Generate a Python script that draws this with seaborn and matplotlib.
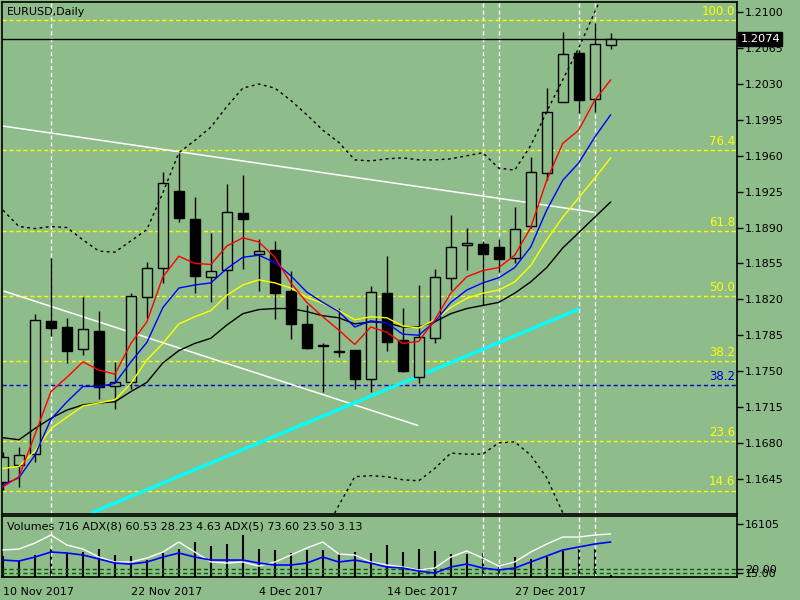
import numpy as np
import pandas as pd
import matplotlib
matplotlib.use("Agg")
import matplotlib.pyplot as plt
import matplotlib.transforms as mtransforms
import seaborn as sns

BG = "#8fbc8b"

# ---------------- data ----------------
x_tick_bars = [0, 8, 16, 24, 32]
x_tick_labels = ["10 Nov 2017", "22 Nov 2017", "4 Dec 2017", "14 Dec 2017", "27 Dec 2017"]

opens = [1.1642, 1.1658, 1.1669, 1.1799, 1.1793, 1.1772, 1.1789, 1.1735, 1.1739, 1.1822,
         1.1851, 1.1926, 1.1898, 1.1842, 1.1849, 1.1904, 1.1864, 1.1868, 1.1828, 1.1796,
         1.1775, 1.1769, 1.1771, 1.1742, 1.1826, 1.1780, 1.1744, 1.1782, 1.1841, 1.1873,
         1.1874, 1.1871, 1.1860, 1.1892, 1.1943, 1.2012, 1.2060, 1.2015, 1.2068]
highs = [1.1671, 1.1676, 1.1806, 1.1860, 1.1802, 1.1822, 1.1809, 1.1759, 1.1826, 1.1856,
         1.1944, 1.1963, 1.1920, 1.1885, 1.1932, 1.1941, 1.1879, 1.1877, 1.1848, 1.1814,
         1.1777, 1.1812, 1.1771, 1.1833, 1.1862, 1.1812, 1.1834, 1.1850, 1.1902, 1.1890,
         1.1877, 1.1879, 1.1910, 1.1959, 1.2026, 1.2081, 1.2063, 1.2090, 1.2080]
lows = [1.1634, 1.1637, 1.1661, 1.1784, 1.1758, 1.1766, 1.1723, 1.1713, 1.1733, 1.1802,
        1.1836, 1.1895, 1.1826, 1.1817, 1.1811, 1.1850, 1.1828, 1.1801, 1.1781, 1.1772,
        1.1730, 1.1764, 1.1733, 1.1730, 1.1770, 1.1749, 1.1738, 1.1777, 1.1829, 1.1849,
        1.1814, 1.1847, 1.1855, 1.1890, 1.1936, 1.2012, 1.2002, 1.2003, 1.2064]
closes = [1.1666, 1.1668, 1.1800, 1.1792, 1.1770, 1.1791, 1.1734, 1.1739, 1.1823, 1.1851,
          1.1933, 1.1899, 1.1843, 1.1848, 1.1905, 1.1898, 1.1867, 1.1826, 1.1796, 1.1773,
          1.1774, 1.1770, 1.1742, 1.1827, 1.1778, 1.1750, 1.1783, 1.1842, 1.1871, 1.1875,
          1.1864, 1.1859, 1.1889, 1.1944, 1.2003, 1.2059, 1.2014, 1.2069, 1.2074]

ma_red = [1.1637, 1.1647, 1.1688, 1.1730, 1.1744, 1.1759, 1.1751, 1.1747, 1.1777, 1.1798,
          1.1842, 1.1862, 1.1855, 1.1854, 1.1872, 1.1880, 1.1876, 1.1861, 1.1836, 1.1817,
          1.1803, 1.1790, 1.1776, 1.1793, 1.1788, 1.1777, 1.1779, 1.1800, 1.1826, 1.1842,
          1.1848, 1.1851, 1.1863, 1.1890, 1.1936, 1.1972, 1.1985, 1.2014, 1.2034]
ma_blue = [1.1639, 1.1646, 1.1668, 1.1703, 1.1720, 1.1735, 1.1735, 1.1738, 1.1759, 1.1778,
           1.1812, 1.1831, 1.1834, 1.1836, 1.1850, 1.1861, 1.1863, 1.1856, 1.1843, 1.1827,
           1.1817, 1.1808, 1.1793, 1.1799, 1.1797, 1.1786, 1.1785, 1.1798, 1.1817, 1.1829,
           1.1836, 1.1841, 1.1851, 1.1871, 1.1907, 1.1936, 1.1953, 1.1978, 1.2000]
ma_yellow = [1.1655, 1.1657, 1.1672, 1.1694, 1.1705, 1.1716, 1.1719, 1.1722, 1.1738, 1.1761,
             1.1777, 1.1796, 1.1803, 1.1809, 1.1824, 1.1834, 1.1839, 1.1836, 1.1831, 1.1822,
             1.1816, 1.1809, 1.1800, 1.1803, 1.1802, 1.1794, 1.1792, 1.1800, 1.1812, 1.1821,
             1.1826, 1.1829, 1.1837, 1.1853, 1.1878, 1.1900, 1.1919, 1.1938, 1.1958]
ma_black = [1.1685, 1.1683, 1.1694, 1.1704, 1.1712, 1.1717, 1.1719, 1.1720, 1.1730, 1.1739,
            1.1758, 1.1770, 1.1777, 1.1782, 1.1795, 1.1806, 1.1810, 1.1811, 1.1811, 1.1808,
            1.1804, 1.1802, 1.1796, 1.1798, 1.1797, 1.1793, 1.1793, 1.1798, 1.1806, 1.1811,
            1.1814, 1.1817, 1.1826, 1.1837, 1.1851, 1.1870, 1.1885, 1.1900, 1.1915]

band_upper = [1.1907, 1.1891, 1.1889, 1.1891, 1.1890, 1.1878, 1.1867, 1.1866, 1.1877, 1.1888,
              1.1924, 1.1963, 1.1975, 1.1988, 1.2008, 1.2026, 1.2030, 1.2026, 1.2014, 1.2000,
              1.1985, 1.1973, 1.1956, 1.1955, 1.1957, 1.1958, 1.1956, 1.1956, 1.1957, 1.1960,
              1.1963, 1.1948, 1.1946, 1.1970, 1.2003, 1.2034, 1.2065, 1.2100, 1.2136]
band_lower_bars = list(range(20, 37))
band_lower = [1.1590, 1.1619, 1.1647, 1.1648, 1.1647, 1.1644, 1.1643, 1.1655, 1.1670, 1.1669,
              1.1669, 1.1680, 1.1681, 1.1668, 1.1646, 1.1612, 1.1580]

price_ticks = [1.2100, 1.2065, 1.2030, 1.1995, 1.1960, 1.1925, 1.1890, 1.1855,
               1.1820, 1.1785, 1.1750, 1.1715, 1.1680, 1.1645]
current_price = 1.2074

fib_labels = ["100.0", "76.4", "61.8", "50.0", "38.2", "23.6", "14.6"]
fib_prices = [1.2092, 1.19655, 1.18865, 1.18231, 1.17597, 1.16817, 1.16330]
fib2_label = "38.2"
fib2_price = 1.17363

white_line1_bars = [0.0, 36.94]
white_line1_prices = [1.1989, 1.1905]
white_line2_bars = [0.06, 25.94]
white_line2_prices = [1.1828, 1.1697]
cyan_line_bars = [5.5, 36.0]
cyan_line_prices = [1.16115, 1.18104]

vline_bars = [3, 30, 31, 36, 37]

volumes = [6400, 4860, 6690, 8510, 7290, 7600, 8510, 6690, 6380, 5170,
           7290, 8510, 10640, 9420, 10030, 12770, 8510, 8210, 7290, 8210,
           8210, 7290, 7600, 7290, 9730, 7600, 8510, 7900, 6990, 6990,
           7290, 3040, 6080, 5470, 6080, 7900, 8510, 8510, 716]
adx_white = [47.4, 49.0, 58.8, 71.9, 55.6, 49.0, 35.9, 27.8, 27.8, 34.3,
             44.1, 60.5, 44.1, 27.8, 26.1, 27.8, 21.2, 27.8, 39.2, 50.7,
             60.5, 40.8, 39.2, 27.8, 22.9, 19.6, 14.7, 18.0, 35.9, 45.8,
             34.3, 21.2, 27.8, 44.1, 57.2, 68.6, 68.6, 71.9, 73.6]
adx_blue = [31.0, 29.4, 35.9, 44.1, 42.5, 39.2, 32.7, 26.1, 24.5, 27.8,
            35.9, 42.5, 35.9, 31.0, 31.0, 31.0, 26.1, 22.9, 22.9, 26.1,
            35.9, 27.8, 31.0, 26.1, 19.6, 18.0, 13.1, 9.8, 19.6, 24.5,
            18.0, 14.7, 18.0, 27.8, 37.6, 47.4, 52.3, 57.2, 60.5]
adx_levels = [16.3, 9.8]
adx_level_labels = ["20.00", "15.00"]
vol_label_value = 16105

# ---------------- style ----------------
sns.set_style("white", {"axes.facecolor": BG, "figure.facecolor": BG,
                        "axes.edgecolor": "black"})
plt.rcParams["font.family"] = ["DejaVu Sans"]
plt.rcParams["font.size"] = 8

fig = plt.figure(figsize=(8, 6), dpi=100, facecolor=BG)
W, H = 800.0, 600.0
L, R = 2, 737
ax = fig.add_axes([L / W, 1 - 514 / H, (R - L) / W, (514 - 2) / H])
axs = fig.add_axes([L / W, 1 - 577 / H, (R - L) / W, (577 - 516) / H])
for a in (ax, axs):
    a.set_facecolor(BG)
    for s in a.spines.values():
        s.set_color("black")
        s.set_linewidth(1.2)

XMIN, XMAX = -0.06, 45.9
ax.set_xlim(XMIN, XMAX)
ax.set_ylim(1.16106, 1.2110)

df = pd.DataFrame({"bar": np.arange(len(opens)), "open": opens, "high": highs,
                   "low": lows, "close": closes})
up = df["close"] >= df["open"]

# background lines
for b in vline_bars:
    ax.axvline(b, color="white", lw=1, ls=(0, (3, 2)), zorder=1)
    axs.axvline(b, color="white", lw=1, ls=(0, (3, 2)), zorder=1)
for p in fib_prices:
    ax.axhline(p, color="#ffff00", lw=1, ls=(0, (3, 2)), zorder=1.5)
ax.axhline(fib2_price, color="#0000cc", lw=1, ls=(0, (3, 2)), zorder=1.5)
ax.axhline(current_price, color="black", lw=1, zorder=1.5)

trans_lbl = mtransforms.blended_transform_factory(ax.transAxes, ax.transData)
for lab, p in zip(fib_labels, fib_prices):
    ax.text(0.9975, p + 0.00025, lab, transform=trans_lbl, ha="right", va="bottom",
            color="#ffff00", fontsize=8.5, zorder=6)
ax.text(0.9975, fib2_price + 0.00025, fib2_label, transform=trans_lbl, ha="right",
        va="bottom", color="#0000cc", fontsize=8.5, zorder=6)

# trend lines
ax.plot(white_line1_bars, white_line1_prices, color="white", lw=1.1, zorder=2)
ax.plot(white_line2_bars, white_line2_prices, color="white", lw=1.1, zorder=2)
ax.plot(cyan_line_bars, cyan_line_prices, color="#00ffff", lw=2.4, zorder=2,
        solid_capstyle="butt")

# candles
ax.vlines(df["bar"], df["low"], df["high"], color="black", lw=1, zorder=3)
body = df["close"] - df["open"]
ax.bar(df["bar"][up], body[up], bottom=df["open"][up], width=0.62,
       facecolor=BG, edgecolor="black", lw=1, zorder=3.5)
ax.bar(df["bar"][~up], body[~up], bottom=df["open"][~up], width=0.62,
       facecolor="black", edgecolor="black", lw=1, zorder=3.5)

# moving averages
bars = df["bar"]
sns.lineplot(x=bars, y=ma_black, color="black", lw=1, ax=ax, zorder=4)
sns.lineplot(x=bars, y=ma_yellow, color="#ffff00", lw=1, ax=ax, zorder=4)
sns.lineplot(x=bars, y=ma_blue, color="#0000ff", lw=1, ax=ax, zorder=4)
sns.lineplot(x=bars, y=ma_red, color="#ff0000", lw=1, ax=ax, zorder=4)

# bands (dotted)
ax.plot(bars, band_upper, color="black", lw=1, ls=(0, (2, 2.5)), zorder=4)
ax.plot(band_lower_bars, band_lower, color="black", lw=1, ls=(0, (2, 2.5)), zorder=4)

# axis formatting main
ax.set_xlabel("")
ax.set_ylabel("")
ax.set_xticks([])
ax.yaxis.tick_right()
ax.set_yticks(price_ticks)
ax.set_yticklabels([f"{p:.4f}" for p in price_ticks])
ax.tick_params(axis="y", direction="out", length=4, width=1, pad=1.5,
               labelsize=8, colors="black")
ax.text(5 / (R - L), 1 - 10 / 512, "EURUSD,Daily", transform=ax.transAxes,
        ha="left", va="center", fontsize=8, color="black", zorder=6)
ax.text(1.0045, current_price, f"{current_price:.4f}", transform=trans_lbl,
        ha="left", va="center", color="white", fontsize=8.2, zorder=10,
        clip_on=False,
        bbox=dict(boxstyle="square,pad=0.18", fc="black", ec="black"))

# ---------------- sub panel ----------------
axs.set_xlim(XMIN, XMAX)
axs.set_ylim(3.3, 103)
axv = axs.twinx()
axv.set_ylim(0, 18544)
axv.set_xlim(XMIN, XMAX)
axv.vlines(bars, 0, volumes, color="black", lw=1.5, zorder=2)
for s in axv.spines.values():
    s.set_visible(False)
axv.set_yticks([vol_label_value])
axv.set_yticklabels([str(vol_label_value)])
axv.tick_params(axis="y", direction="out", length=4, width=1, pad=1.5,
                labelsize=8, colors="black")

axs.set_zorder(axv.get_zorder() + 1)
axs.patch.set_visible(False)
axv.patch.set_visible(True)
axv.patch.set_facecolor(BG)
for lv in adx_levels:
    axs.axhline(lv, color="#006400", lw=1, ls=(0, (3, 2)), zorder=2)
sns.lineplot(x=bars, y=adx_white, color="white", lw=1, ax=axs, zorder=3)
sns.lineplot(x=bars, y=adx_blue, color="#0000ff", lw=1.2, ax=axs, zorder=3)
axs.set_ylabel("")
axs.set_xlabel("")
axs.yaxis.tick_right()
axs.set_yticks(adx_levels)
axs.set_yticklabels(adx_level_labels)
axs.tick_params(axis="y", direction="out", length=4, width=1, pad=1.5,
                labelsize=8, colors="black")
axs.set_xticks(x_tick_bars)
axs.set_xticklabels(x_tick_labels, ha="left")
axs.tick_params(axis="x", direction="out", length=5, width=1, pad=2,
                labelsize=8, colors="black")
axs.text(5 / (R - L), 0.82,
         "Volumes 716 ADX(8) 60.53 28.23 4.63 ADX(5) 73.60 23.50 3.13",
         transform=axs.transAxes, ha="left", va="center", fontsize=8,
         color="black", zorder=6)

fig.savefig("out.png", dpi=100, facecolor=BG)
